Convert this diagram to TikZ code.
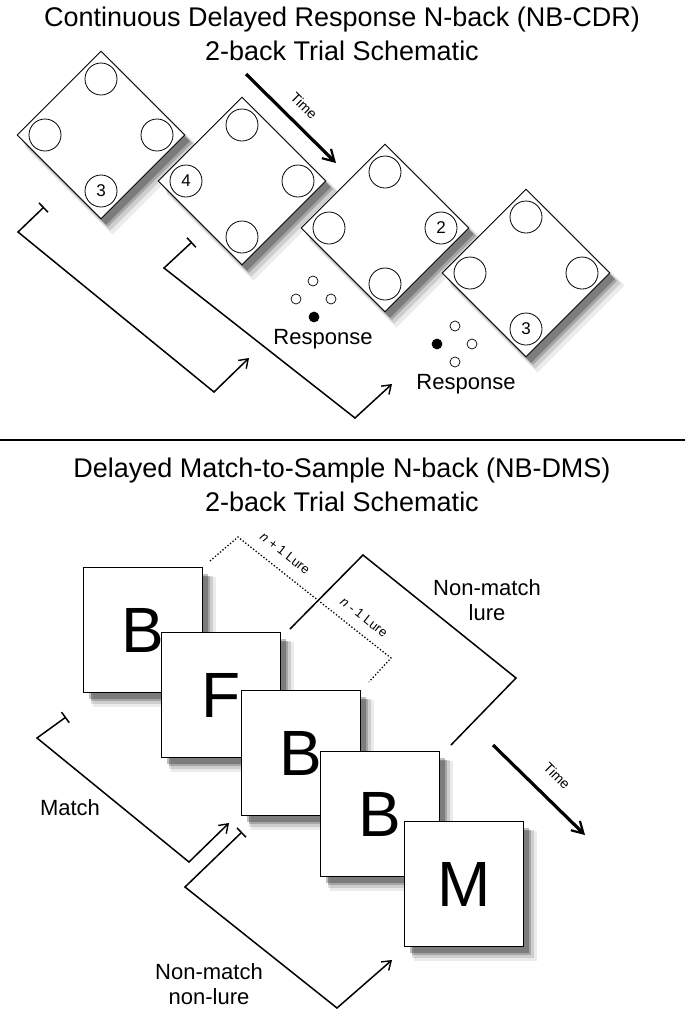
\documentclass[tikz,border=0pt]{standalone}
\usepackage{fontspec}
\setmainfont{Liberation Sans}
\usetikzlibrary{shapes.geometric,shadows,arrows.meta}
\begin{document}
\begin{tikzpicture}[x=1pt,y=-1pt,
  shd/.style={drop shadow={shadow xshift=11pt,shadow yshift=-12pt,opacity=0.08,fill=black,shadow scale=1.04},
              drop shadow={shadow xshift=9pt,shadow yshift=-10pt,opacity=0.12,fill=black,shadow scale=1.02},
              drop shadow={shadow xshift=7pt,shadow yshift=-8pt,opacity=0.2,fill=black},
              drop shadow={shadow xshift=5pt,shadow yshift=-6pt,opacity=0.25,fill=black}},
  dia/.style={diamond,draw,fill=white,line width=0.9pt,minimum width=168pt,minimum height=168pt,inner sep=0pt,shd},
  loc/.style={circle,draw,fill=white,line width=0.8pt,minimum size=32pt,inner sep=0pt,font=\fontsize{17}{17}\selectfont},
  resp/.style={circle,draw,line width=0.7pt,minimum size=10pt,inner sep=0pt},
  card/.style={rectangle,draw,fill=white,line width=0.9pt,minimum width=119pt,minimum height=125pt,inner sep=0pt,shd,font=\fontsize{64}{64}\selectfont},
  bracket/.style={line width=1.5pt,{Bar[width=13pt,line width=1.5pt]}-{Straight Barb[angle=70:10pt,line width=1.4pt]}},
  lbl/.style={font=\fontsize{22}{25}\selectfont,align=center},
  ttl/.style={font=\fontsize{27}{31}\selectfont},
  timearrow/.style={line width=3.2pt,-{Straight Barb[angle=60:13pt,line width=2.2pt]}},
  small/.style={font=\fontsize{14}{14}\selectfont}]
\useasboundingbox (0,0) rectangle (685,1013);
% titles
\node[ttl] (t1) at (342,20) {Continuous Delayed Response N-back (NB-CDR)};
\node[ttl] (t2) at (342,51) {2-back Trial Schematic};
\node[ttl] (t3) at (342,471) {Delayed Match-to-Sample N-back (NB-DMS)};
\node[ttl] (t4) at (342,502) {2-back Trial Schematic};
\draw[line width=1.3pt] (0,440) -- (685,440);
% top brackets
\coordinate (b1s) at (44,207); \coordinate (b1c) at (18,232);
\coordinate (b1d) at (214,392); \coordinate (b1e) at (249,358);
\draw[bracket] (b1s) -- (b1c) -- (b1d) -- (b1e);
\coordinate (b2s) at (192,242); \coordinate (b2c) at (164,268);
\coordinate (b2d) at (355,418); \coordinate (b2e) at (392,384);
\draw[bracket] (b2s) -- (b2c) -- (b2d) -- (b2e);
% diamonds
\foreach \n/\cx/\cy in {1/101/135,2/242/181,3/385/228,4/526/273}{
  \node[dia] (d\n) at (\cx,\cy) {};
}
\foreach \n/\cx/\cy/\a/\b/\c/\d in {1/101/135/{}/{}/{}/3,2/242/181/{}/4/{}/{},3/385/228/{}/{}/2/{},4/526/273/{}/{}/{}/3}{
  \node[loc] (d\n t) at (\cx,\cy-56) {\a};
  \node[loc] (d\n l) at (\cx-56,\cy) {\b};
  \node[loc] (d\n r) at (\cx+56,\cy) {\c};
  \node[loc] (d\n b) at (\cx,\cy+56) {\d};
}
% time arrow top
\coordinate (ta1) at (246,74); \coordinate (ta2) at (336,163);
\draw[timearrow] (ta1) -- (ta2);
\node[small,rotate=-45] (time1) at (304,106) {Time};
% responses
\node[resp] (r1a) at (313,281) {}; \node[resp] (r1b) at (296,299) {};
\node[resp] (r1c) at (331,299) {}; \node[resp,fill=black] (r1d) at (314,317) {};
\node[lbl] (resp1) at (323,339) {Response};
\node[resp] (r2a) at (455,326) {}; \node[resp] (r2b) at (472,344) {};
\node[resp] (r2c) at (455,362) {}; \node[resp,fill=black] (r2d) at (437,344) {};
\node[lbl] (resp2) at (466,384) {Response};
% bottom: dotted lure bracket
\coordinate (l1) at (210,561); \coordinate (l2) at (238,537);
\coordinate (l3) at (391,658); \coordinate (l4) at (369,682);
\draw[line width=1.3pt,dotted] (l1) -- (l2) -- (l3) -- (l4);
\node[font=\fontsize{13}{13}\selectfont,rotate=-38] (lu1) at (285,553) {\textit{n} + 1 Lure};
\node[font=\fontsize{13}{13}\selectfont,rotate=-38] (lu2) at (364,617) {\textit{n} - 1 Lure};
% non-match lure bracket
\coordinate (nl1) at (290,629); \coordinate (nl2) at (363,555);
\coordinate (nl3) at (516,678); \coordinate (nl4) at (451,745);
\draw[line width=1.5pt] (nl1) -- (nl2) -- (nl3) -- (nl4);
\node[lbl] (nml) at (487,600) {Non-match\\lure};
% match bracket
\coordinate (m1) at (66,717); \coordinate (m2) at (37,738);
\coordinate (m3) at (189,862); \coordinate (m4) at (229,823);
\draw[bracket] (m1) -- (m2) -- (m3) -- (m4);
\node[lbl] (match) at (70,808) {Match};
% non-match non-lure bracket
\coordinate (n1) at (242,832); \coordinate (n2) at (185,887);
\coordinate (n3) at (337,1008); \coordinate (n4) at (392,960);
\draw[bracket] (n1) -- (n2) -- (n3) -- (n4);
\node[lbl] (nmnl) at (209,984) {Non-match\\non-lure};
% cards
\node[card] (c1) at (143,630) {B};
\node[card] (c2) at (221,695) {F};
\node[card] (c3) at (301,753) {B};
\node[card] (c4) at (380,814) {B};
\node[card] (c5) at (464,884) {M};
% time arrow bottom
\coordinate (tb1) at (493,745); \coordinate (tb2) at (585,835);
\draw[timearrow] (tb1) -- (tb2);
\node[small,rotate=-45] (time2) at (557,776) {Time};
\end{tikzpicture}
\end{document}
